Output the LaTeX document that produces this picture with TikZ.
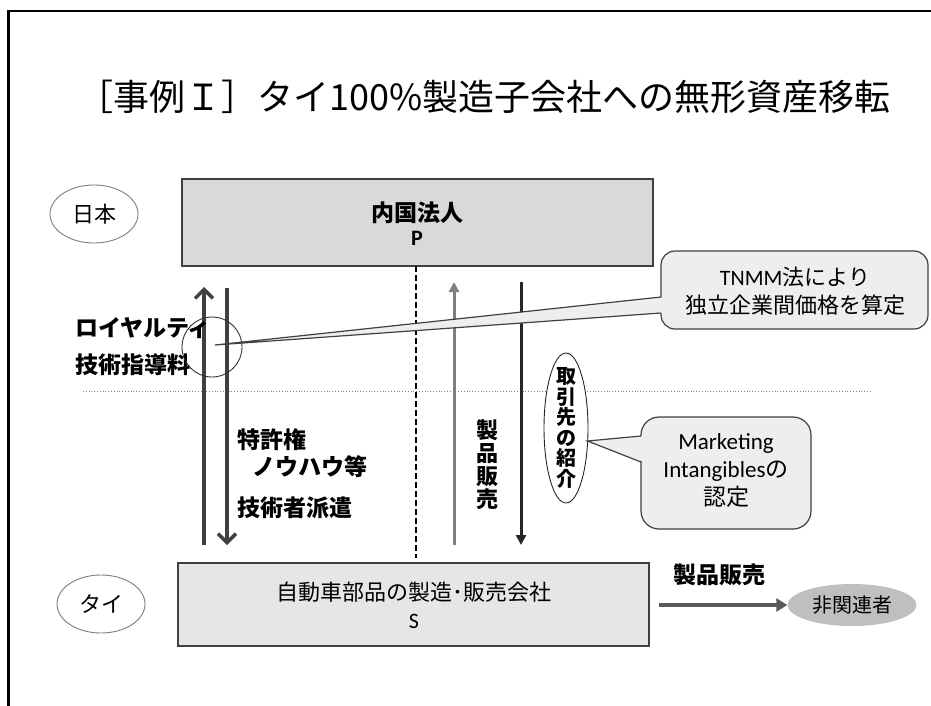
\documentclass[tikz,border=0pt]{standalone}
\usepackage{fontspec}
\setmainfont{Carlito}
\newfontfamily\jp{Noto Sans CJK JP}
\usetikzlibrary{shapes.geometric,arrows.meta,calc}
\definecolor{fillP}{HTML}{D9D9D9}
\definecolor{fillS}{HTML}{E6E6E6}
\definecolor{fillC}{HTML}{EEEEEE}
\definecolor{fillN}{HTML}{BFBFBF}
\definecolor{darkA}{HTML}{404040}
\definecolor{grayA}{HTML}{7F7F7F}
\definecolor{midA}{HTML}{595959}
\definecolor{edgeB}{HTML}{404040}
\tikzset{
  txt/.style={inner sep=0pt, outer sep=0pt},
  jpb/.style={txt, font=\jp\bfseries\fontsize{23}{24}\selectfont},
  jpn/.style={txt, font=\jp\fontsize{22}{28}\selectfont},
  bigbox/.style={draw=edgeB, line width=1.4pt, inner sep=0pt},
  country/.style={ellipse, draw=grayA, line width=0.9pt, fill=white, inner sep=0pt, minimum width=88pt, minimum height=58pt},
  thickarrow/.style={draw=darkA, line width=4pt, -{Straight Barb[length=9pt,width=18pt,line width=3.5pt]}},
  thinup/.style={draw=grayA, line width=3pt, -{Triangle[length=10pt,width=10pt]}},
  thindown/.style={draw=black!85, line width=3pt, -{Triangle[length=10pt,width=10pt]}},
  cbox/.style={draw=edgeB, line width=1.2pt, fill=fillC, rounded corners=14pt, inner sep=0pt},
  cedge/.style={draw=edgeB, line width=1.2pt},
}
\begin{document}
\begin{tikzpicture}[x=1pt,y=-1pt]
\useasboundingbox (0,0) rectangle (931,706);
% frame
\draw[line width=2.2pt] (8.5,706) -- (8.5,11) -- (931,11);
% title
\node[txt, font=\jp\fontsize{36}{36}\selectfont] (title) at (484,97) {［事例Ｉ］タイ100\%製造子会社への無形資産移転};
% country ellipses
\node[country] (jpn) at (94,214) {};
\node[jpn] (jpnt) at (94,214) {日本};
\node[country] (thai) at (101,604) {};
\node[jpn] (thait) at (101,604) {タイ};
% P box
\node[bigbox, fill=fillP, minimum width=471pt, minimum height=87pt] (P) at (417.5,222.5) {};
\node[jpb] (Pt1) at (417,213) {内国法人};
\node[txt, font=\bfseries\fontsize{22}{22}\selectfont] (Pt2) at (417,238) {P};
% S box
\node[bigbox, fill=fillS, minimum width=471pt, minimum height=83pt] (S) at (413.5,604.5) {};
\node[jpn] (St1) at (414,592) {自動車部品の製造･販売会社};
\node[txt, font=\fontsize{22}{22}\selectfont] (St2) at (414,621) {S};
% dashed and dotted lines
\coordinate (dtop) at (416,266);
\coordinate (dbot) at (416,558);
\draw[line width=2pt, dash pattern=on 6pt off 3pt] (dtop) -- (dbot);
\coordinate (hl) at (83,391);
\coordinate (hr) at (872,391);
\draw[gray, line width=0.8pt, dotted] (hl) -- (hr);
% vertical arrows
\coordinate (a1b) at (204,545); \coordinate (a1t) at (204,287);
\coordinate (a2t) at (227,288); \coordinate (a2b) at (227,545);
\coordinate (a3b) at (454,545); \coordinate (a3t) at (454,282);
\coordinate (a4t) at (521,282); \coordinate (a4b) at (521,545);
\draw[thickarrow] (a1b) -- (a1t);
\draw[thickarrow] (a2t) -- (a2b);
\draw[thinup] (a3b) -- (a3t);
\draw[thindown] (a4t) -- (a4b);
% left labels
\node[jpb, anchor=west] (roy) at (75,328) {ロイヤルティ};
\node[jpb, anchor=west] (gij) at (75,365) {技術指導料};
\node[jpb, anchor=west] (tok) at (237,440) {特許権};
\node[jpb, anchor=west] (nou) at (252,467) {ノウハウ等};
\node[jpb, anchor=west] (gis) at (237,508) {技術者派遣};
% circle
\node[circle, draw=black!80, line width=0.9pt, minimum size=60pt, inner sep=0pt] (circ) at (212,347) {};
\coordinate (tip1) at (215,345);
% TNMM callout
\node[cbox, minimum width=267pt, minimum height=78pt] (tnmmbox) at (794.5,290) {};
\coordinate (b1a) at (661,297);
\coordinate (b1b) at (661,313);
\fill[fillC] ($(b1a)+(3,0)$) -- (tip1) -- ($(b1b)+(3,0)$) -- cycle;
\draw[cedge] (b1a) -- (tip1) -- (b1b);
\node[jpn, align=center] (tnmm) at (795,291) {{\fontspec{Carlito}TNMM}法により\\独立企業間価格を算定};
% product sale vertical
\node[txt, align=center, font=\jp\bfseries\fontsize{22}{23}\selectfont] (seihin) at (487,465) {製\\品\\販\\売};
% torihiki ellipse
\node[ellipse, draw=black!85, line width=0.9pt, fill=white, minimum width=44pt, minimum height=150pt, inner sep=0pt] (tori) at (566,428) {};
\node[txt, align=center, font=\jp\bfseries\fontsize{20}{20.5}\selectfont] (torit) at (566,428) {取\\引\\先\\の\\紹\\介};
% marketing callout
\node[cbox, minimum width=170pt, minimum height=112pt, rounded corners=18pt] (mktbox) at (726,473) {};
\coordinate (tip2) at (587.5,441);
\coordinate (b2a) at (641,436);
\coordinate (b2b) at (641,462);
\fill[fillC] ($(b2a)+(3,0)$) -- (tip2) -- ($(b2b)+(3,0)$) -- cycle;
\draw[cedge] (b2a) -- (tip2) -- (b2b);
\node[txt, align=center, font=\fontsize{23}{28}\selectfont] (mkt) at (726,470) {Marketing\\Intangibles{\jp の}\\{\jp 認定}};
% sale to unrelated
\node[jpb] (sale) at (719,575) {製品販売};
\node[ellipse, fill=fillN, inner sep=0pt, minimum width=129pt, minimum height=42pt] (unrel) at (852,605) {};
\node[jpn, font=\jp\fontsize{20}{20}\selectfont] (unrelt) at (852,605) {非関連者};
\coordinate (sstart) at (659,605);
\draw[draw=midA, line width=4pt, -{Triangle[length=11pt,width=13pt]}] (sstart) -- (unrel.west);
\end{tikzpicture}
\end{document}
